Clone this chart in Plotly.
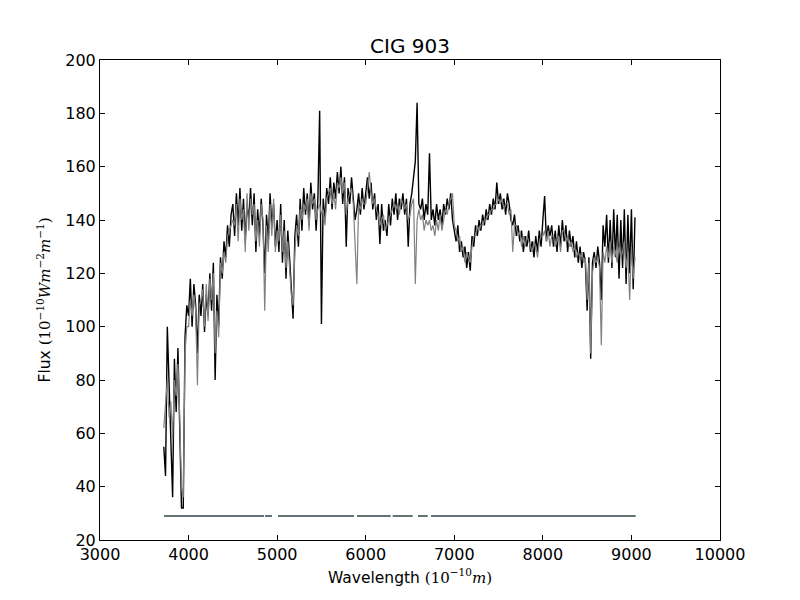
import plotly.graph_objects as go

# wavelength grid (Angstrom)
wavelength = [3720, 3740, 3760, 3780, 3800, 3820, 3840, 3860, 3880, 3900,
              3920, 3940, 3960, 3980, 4000, 4020, 4040, 4060, 4080, 4100,
              4120, 4140, 4160, 4180, 4200, 4220, 4240, 4260, 4280, 4300,
              4320, 4340, 4360, 4380, 4400, 4420, 4440, 4460, 4480, 4500,
              4520, 4540, 4560, 4580, 4600, 4620, 4640, 4660, 4680, 4700,
              4720, 4740, 4760, 4780, 4800, 4820, 4840, 4860, 4880, 4900,
              4920, 4940, 4960, 4980, 5000, 5020, 5040, 5060, 5080, 5100,
              5120, 5140, 5160, 5180, 5200, 5220, 5240, 5260, 5280, 5300,
              5320, 5340, 5360, 5380, 5400, 5420, 5440, 5460, 5480, 5500,
              5520, 5540, 5560, 5580, 5600, 5620, 5640, 5660, 5680, 5700,
              5720, 5740, 5760, 5780, 5800, 5820, 5840, 5860, 5880, 5900,
              5920, 5940, 5960, 5980, 6000, 6020, 6040, 6060, 6080, 6100,
              6120, 6140, 6160, 6180, 6200, 6220, 6240, 6260, 6280, 6300,
              6320, 6340, 6360, 6380, 6400, 6420, 6440, 6460, 6480, 6500,
              6520, 6540, 6560, 6580, 6600, 6620, 6640, 6660, 6680, 6700,
              6720, 6740, 6760, 6780, 6800, 6820, 6840, 6860, 6880, 6900,
              6920, 6940, 6960, 6980, 7000, 7020, 7040, 7060, 7080, 7100,
              7120, 7140, 7160, 7180, 7200, 7220, 7240, 7260, 7280, 7300,
              7320, 7340, 7360, 7380, 7400, 7420, 7440, 7460, 7480, 7500,
              7520, 7540, 7560, 7580, 7600, 7620, 7640, 7660, 7680, 7700,
              7720, 7740, 7760, 7780, 7800, 7820, 7840, 7860, 7880, 7900,
              7920, 7940, 7960, 7980, 8000, 8020, 8040, 8060, 8080, 8100,
              8120, 8140, 8160, 8180, 8200, 8220, 8240, 8260, 8280, 8300,
              8320, 8340, 8360, 8380, 8400, 8420, 8440, 8460, 8480, 8500,
              8520, 8540, 8560, 8580, 8600, 8620, 8640, 8660, 8680, 8700,
              8720, 8740, 8760, 8780, 8800, 8820, 8840, 8860, 8880, 8900,
              8920, 8940, 8960, 8980, 9000, 9020, 9040]

# observed flux (black)
flux_obs = [55, 44, 100, 78, 60, 36, 88, 68, 92, 60,
            32, 32, 96, 108, 104, 118, 100, 116, 108, 90,
            112, 104, 116, 98, 112, 104, 120, 106, 124, 80,
            112, 100, 126, 118, 132, 126, 138, 130, 142, 146,
            134, 150, 138, 152, 136, 148, 132, 146, 140, 152,
            138, 150, 128, 144, 134, 148, 138, 120, 142, 132,
            150, 138, 146, 130, 140, 128, 146, 124, 140, 118,
            136, 126, 116, 103, 134, 142, 130, 148, 136, 152,
            142, 150, 138, 154, 144, 150, 136, 148, 181, 101,
            148, 140, 152, 146, 156, 144, 154, 148, 158, 150,
            160, 146, 156, 130, 152, 146, 156, 148, 140, 144,
            150, 142, 152, 144, 150, 156, 148, 154, 144, 150,
            140, 146, 131, 146, 136, 140, 134, 146, 138, 148,
            142, 150, 140, 148, 144, 150, 142, 148, 130, 146,
            150, 156, 162, 184, 146, 144, 148, 140, 146, 142,
            165, 140, 144, 138, 146, 140, 144, 138, 146, 142,
            148, 144, 150, 140, 136, 132, 138, 128, 132, 126,
            130, 122, 128, 121, 134, 130, 138, 134, 140, 136,
            142, 138, 144, 140, 146, 142, 148, 144, 154, 146,
            150, 144, 148, 142, 150, 146, 140, 138, 142, 134,
            138, 132, 136, 128, 134, 130, 136, 128, 132, 126,
            134, 128, 136, 130, 140, 149, 132, 138, 134, 138,
            130, 136, 128, 138, 130, 140, 132, 138, 128, 136,
            130, 134, 126, 132, 124, 130, 122, 128, 124, 106,
            126, 88, 124, 128, 122, 130, 124, 110, 138, 130,
            142, 124, 140, 122, 144, 126, 142, 118, 140, 122,
            144, 116, 142, 120, 144, 114, 141]

# synthetic / fitted flux (grey)
flux_fit = [62, 70, 80, 66, 72, 58, 80, 74, 86, 66,
            40, 36, 90, 100, 100, 110, 104, 112, 106, 78,
            108, 110, 114, 100, 116, 102, 118, 110, 120, 90,
            106, 96, 124, 120, 128, 124, 134, 136, 138, 140,
            138, 146, 132, 148, 140, 144, 128, 150, 136, 148,
            142, 146, 132, 140, 130, 146, 140, 106, 138, 128,
            146, 134, 148, 128, 136, 132, 142, 128, 136, 122,
            132, 120, 112, 108, 128, 138, 134, 144, 140, 146,
            144, 148, 136, 150, 146, 148, 140, 144, 146, 142,
            144, 138, 148, 150, 152, 146, 150, 144, 154, 152,
            156, 150, 154, 142, 148, 150, 152, 146, 132, 116,
            146, 144, 148, 146, 146, 152, 158, 150, 146, 148,
            144, 142, 138, 140, 142, 136, 138, 140, 142, 144,
            146, 144, 146, 142, 148, 146, 144, 146, 140, 142,
            146, 148, 116, 140, 144, 140, 142, 136, 140, 138,
            140, 136, 138, 134, 140, 136, 142, 136, 140, 144,
            142, 146, 148, 150, 138, 136, 132, 134, 128, 130,
            124, 128, 126, 124, 130, 134, 134, 138, 136, 138,
            138, 140, 140, 142, 142, 144, 144, 146, 146, 148,
            146, 148, 144, 146, 146, 142, 144, 128, 138, 138,
            134, 136, 130, 134, 130, 134, 132, 130, 128, 132,
            130, 126, 132, 134, 134, 136, 132, 136, 130, 134,
            134, 130, 132, 134, 128, 136, 136, 132, 134, 130,
            132, 128, 130, 126, 128, 126, 128, 124, 126, 110,
            124, 90, 120, 126, 124, 126, 122, 93, 128, 124,
            130, 126, 132, 124, 130, 128, 124, 130, 126, 128,
            132, 122, 128, 110, 130, 118, 126]

# masked-region bar along the bottom (segment starts / ends)
mask_start = [3723, 4863, 5010, 5902, 6305, 6590, 6737]
mask_end = [4852, 4942, 5868, 6282, 6531, 6700, 9048]
mask_level = 29

mask_x = []
mask_y = []
for a, b in zip(mask_start, mask_end):
    mask_x += [a, b, None]
    mask_y += [mask_level, mask_level, None]

fig = go.Figure()
fig.add_trace(go.Scatter(x=wavelength, y=flux_obs, mode='lines',
                         line=dict(color='black', width=1.4)))
fig.add_trace(go.Scatter(x=wavelength, y=flux_fit, mode='lines',
                         line=dict(color='grey', width=1.2)))
fig.add_trace(go.Scatter(x=mask_x, y=mask_y, mode='lines',
                         line=dict(color='#637275', width=2)))

# the page puts the figure 8px in from the top-left corner
math = "font-family:'DejaVu Serif';font-size:15px"
fig.update_layout(
    width=800, height=600,
    margin=dict(l=92, r=88, t=52, b=68),
    plot_bgcolor='white', paper_bgcolor='white',
    showlegend=False,
    font=dict(family='DejaVu Sans', size=16, color='black'),
    title=dict(text='CIG 903', x=0.5, xref='paper', xanchor='center',
               y=1 - 38 / 600, yanchor='middle', font=dict(size=20)),
)
fig.update_xaxes(
    range=[3000, 10000], dtick=1000, tick0=3000, tickformat='d',
    title=dict(text="Wavelength <span style=\"" + math + "\">(10<sup>−10</sup><i>m</i>)</span>",
               standoff=8, font=dict(size=15.5)),
    showline=True, linecolor='black', linewidth=1, mirror='ticks',
    ticks='inside', ticklen=5, tickcolor='black', showgrid=False, zeroline=False,
)
fig.update_yaxes(
    range=[20, 200], dtick=20, tick0=20, tickformat='d',
    title=dict(text="Flux <span style=\"" + math + "\">(10<sup>−10</sup><i>Wm</i><sup>−2</sup><i>m</i><sup>−1</sup>)</span>",
               standoff=10, font=dict(size=15.5)),
    showline=True, linecolor='black', linewidth=1, mirror='ticks',
    ticks='inside', ticklen=5, tickcolor='black', showgrid=False, zeroline=False,
)
fig.write_html("out.html")
